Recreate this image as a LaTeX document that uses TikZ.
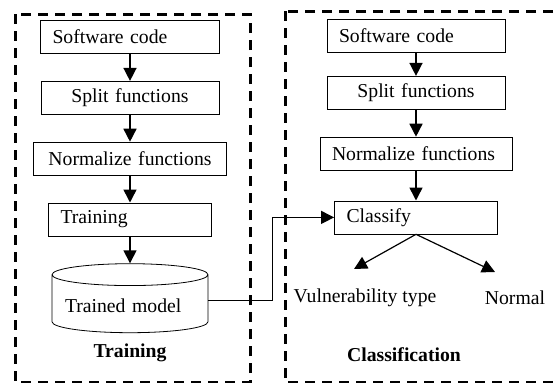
\documentclass[tikz,border=0pt]{standalone}
\usepackage{fontspec}
\setmainfont{Liberation Serif}
\usetikzlibrary{positioning,shapes.geometric,arrows.meta}

\begin{document}
\begin{tikzpicture}[
			x=1pt, y=-1pt,
			node distance=27pt,
			font=\fontsize{19.7}{23}\selectfont,
			stage/.style={draw, rectangle, line width=0.8pt, minimum height=33pt, inner xsep=12pt, align=left},
			store/.style={draw, cylinder, shape border rotate=90, aspect=0.16, line width=0.8pt, minimum width=156pt, minimum height=69pt, text width=130pt, align=left},
			title/.style={font=\fontsize{19.7}{23}\selectfont\bfseries},
			flow/.style={->, >={Triangle[length=13pt, width=13pt]}, line width=1.5pt},
			frame/.style={draw, dash pattern=on 10pt off 7pt, line width=3pt}
			]
			\useasboundingbox (0,0) rectangle (558,383);
			
			% Rahmen
			\draw[frame] (15,14) rectangle (250,382);
			\draw[frame] (285,11) rectangle (575,382);
			
			% Training
			\node[stage, text width=155pt] (codeL) at (130,37) {Software code};
			\node[stage, text width=154pt, align=center, below=of codeL] (splitL) {Split functions};
			\node[stage, text width=169pt, align=center, below=of splitL] (normL) {Normalize functions};
			\node[stage, text width=139pt, below=of normL] (train) {Training};
			\node[store, below=of train] (model) {Trained model};
			\node[title] (trainTitle) at (130,353) {Training};
			
			\draw[flow] (codeL) -- (splitL);
			\draw[flow] (splitL) -- (normL);
			\draw[flow] (normL) -- (train);
			\draw[flow] (train) -- (model);
			
			% Classification
			\node[stage, text width=154pt] (codeR) at (416,36) {Software code};
			\node[stage, text width=154pt, align=center, below=23pt of codeR] (splitR) {Split functions};
			\node[stage, text width=168pt, below=27pt of splitR] (normR) {Normalize functions};
			\node[stage, text width=139pt, below=30pt of normR] (classify) {Classify};
			\node (vuln) at (365,298) {Vulnerability type};
			\node (normal) at (515,298) {Normal};
			\node[title] (classTitle) at (404,355) {Classification};
			\coordinate (vtip) at (354,269);
			\coordinate (ntip) at (495,272);
			
			\draw[flow] (codeR) -- (splitR);
			\draw[flow] (splitR) -- (normR);
			\draw[flow] (normR) -- (classify);
			\draw[flow, line width=1.2pt] (classify.south) -- (vtip);
			\draw[flow, line width=1.2pt] (classify.south) -- (ntip);
			
			% Modell zur Klassifikation
			\draw[flow, line width=1.2pt] ([yshift=5pt]model.east) -- ++(64,0) |- (classify.west);
		\end{tikzpicture}
\end{document}
